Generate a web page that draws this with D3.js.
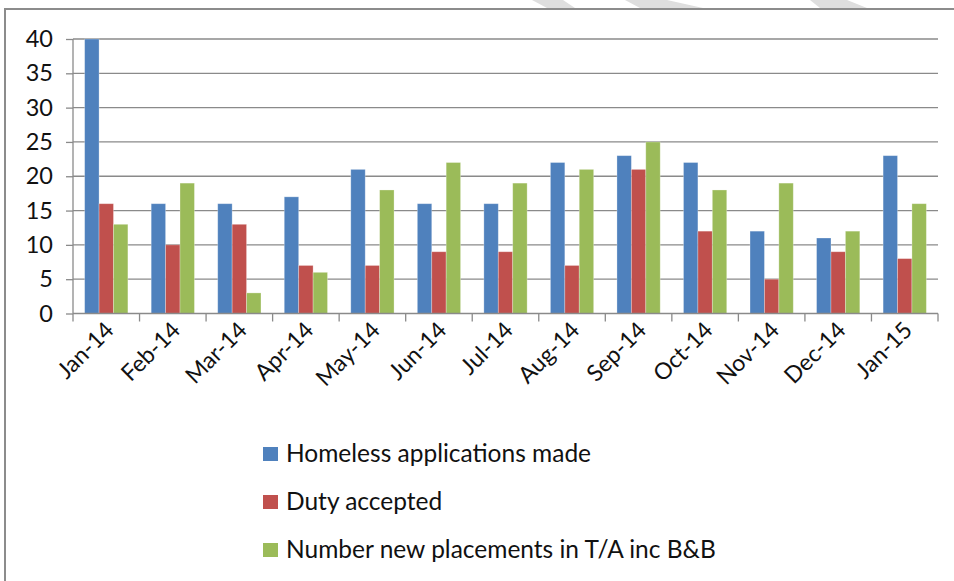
<!DOCTYPE html>
<html>
<head>
<meta charset="utf-8">
<script src="https://cdn.jsdelivr.net/npm/d3@7"></script>
<style>
  body { margin: 0; background: #fff; }
  svg { display: block; font-family: Lato, "Liberation Sans", sans-serif; }
</style>
</head>
<body>
<svg width="954" height="581"></svg>
<script>
// chart data
const months = ["Jan-14","Feb-14","Mar-14","Apr-14","May-14","Jun-14","Jul-14",
                "Aug-14","Sep-14","Oct-14","Nov-14","Dec-14","Jan-15"]
const seriesNames = ["Homeless applications made", "Duty accepted",
                     "Number new placements in T/A inc B&B"]
const applications = [40, 16, 16, 17, 21, 16, 16, 22, 23, 22, 12, 11, 23]
const dutyAccepted = [16, 10, 13, 7, 7, 9, 9, 7, 21, 12, 5, 9, 8]
const placements   = [13, 19, 3, 6, 18, 22, 19, 21, 25, 18, 19, 12, 16]
const yTicks = [0, 5, 10, 15, 20, 25, 30, 35, 40]

const colors = ["#4F81BD", "#C0504D", "#9BBB59"]
const values = [applications, dutyAccepted, placements]

let svg = d3.select("svg")

// faint diagonal stripes above the frame
const stripes = [[532, 563, 575, 547], [625, 667, 703, 640], [810, 847, 867, 820]]
svg.append("g").selectAll("polygon")
  .data(stripes)
  .join("polygon")
  .attr("points", d => `${d[0]},0 ${d[1]},0 ${d[2]},8 ${d[3]},8`)
  .attr("fill", "#dedede")

// outer frame (top + left edges visible)
svg.append("line").attr("x1", 4).attr("x2", 954).attr("y1", 9).attr("y2", 9)
  .attr("stroke", "#8c8c8c").attr("stroke-width", 2)
svg.append("line").attr("x1", 5).attr("x2", 5).attr("y1", 8).attr("y2", 581)
  .attr("stroke", "#8c8c8c").attr("stroke-width", 2)

let plotLeft = 73, plotRight = 938, plotTop = 39, plotBottom = 313.5

let x0 = d3.scaleBand().domain(months).range([plotLeft, plotRight]).padding(0)
let step = x0.step()
let x1 = d3.scaleBand().domain([0, 1, 2]).range([0.175 * step, 0.825 * step])
let y = d3.scaleLinear().domain([0, 40]).range([plotBottom, plotTop])

// gridlines
svg.append("g").selectAll("line")
  .data(yTicks.filter(t => t > 0))
  .join("line")
  .attr("x1", plotLeft).attr("x2", plotRight)
  .attr("y1", d => y(d)).attr("y2", d => y(d))
  .attr("stroke", "#8a8a8a").attr("stroke-width", 1.3)

// y axis
let yAxis = svg.append("g")
  .attr("transform", `translate(${plotLeft},0)`)
  .call(d3.axisLeft(y).tickValues(yTicks).tickSize(7).tickPadding(13))
yAxis.select(".domain").attr("stroke", "#8a8a8a").attr("stroke-width", 1.3)
  .attr("d", `M0,${plotTop}V${plotBottom}`)
yAxis.selectAll(".tick line").attr("stroke", "#8a8a8a").attr("stroke-width", 1.3)
yAxis.selectAll(".tick text")
  .attr("font-family", "Lato, sans-serif").attr("font-size", 23.5).attr("fill", "#111")

// bars
let groups = svg.append("g").selectAll("g")
  .data(months)
  .join("g")
  .attr("transform", d => `translate(${x0(d)},0)`)

groups.selectAll("rect")
  .data((m, i) => values.map((v, s) => ({ s: s, v: v[i] })))
  .join("rect")
  .attr("x", d => x1(d.s))
  .attr("width", x1.bandwidth())
  .attr("y", d => y(d.v))
  .attr("height", d => plotBottom - y(d.v))
  .attr("fill", d => colors[d.s])
  .attr("stroke", "#ffffff").attr("stroke-opacity", 0.35).attr("stroke-width", 0.8)

// x axis line + ticks at category boundaries
let xAxis = svg.append("g")
svg.append("line").attr("x1", plotLeft).attr("x2", plotRight)
  .attr("y1", plotBottom).attr("y2", plotBottom)
  .attr("stroke", "#8a8a8a").attr("stroke-width", 1.3)
xAxis.selectAll("line")
  .data(months.map(m => x0(m)).concat([plotRight]))
  .join("line")
  .attr("x1", d => d).attr("x2", d => d)
  .attr("y1", plotBottom).attr("y2", plotBottom + 8)
  .attr("stroke", "#8a8a8a").attr("stroke-width", 1.3)

xAxis.selectAll("text")
  .data(months)
  .join("text")
  .attr("transform", d => `translate(${x0(d) + step / 2 + 9},${plotBottom + 18}) rotate(-45)`)
  .attr("text-anchor", "end")
  .attr("font-size", 23)
  .attr("fill", "#111")
  .text(d => d)

// legend
let legend = svg.append("g").selectAll("g")
  .data(seriesNames)
  .join("g")
  .attr("transform", (d, i) => `translate(263,${454 + i * 48})`)
legend.append("rect")
  .attr("x", 0).attr("y", -7).attr("width", 15).attr("height", 14)
  .attr("fill", (d, i) => colors[i])
legend.append("text")
  .attr("x", 23).attr("y", 8)
  .attr("font-size", 24.5)
  .attr("fill", "#111")
  .text(d => d)
</script>
</body>
</html>
